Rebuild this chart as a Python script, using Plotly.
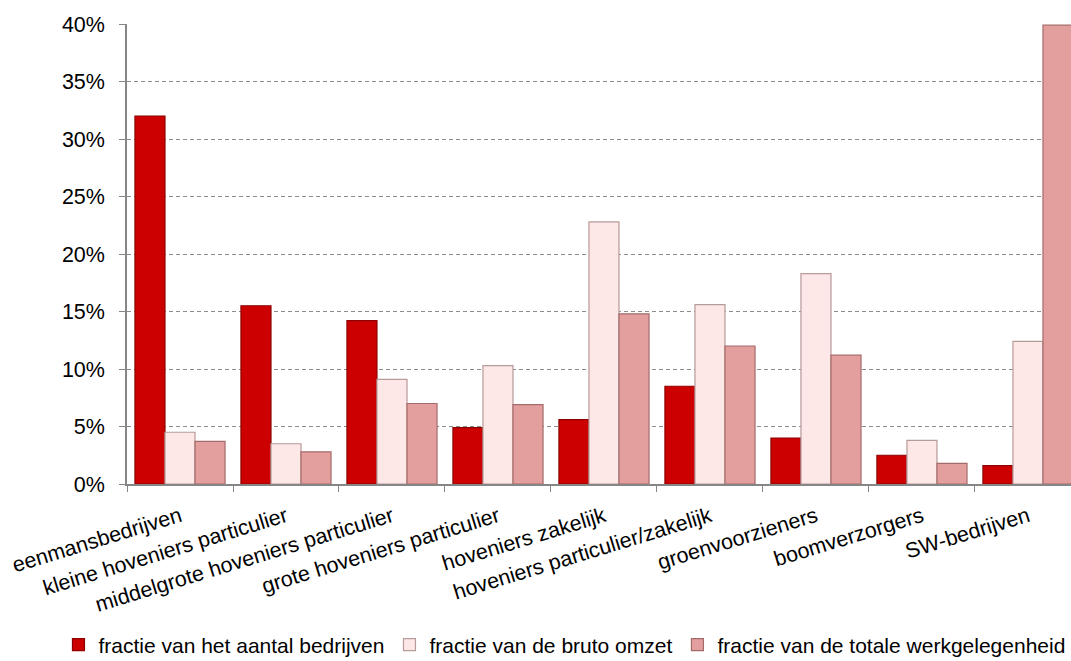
import plotly.graph_objects as go

categories = [
    "eenmansbedrijven",
    "kleine hoveniers particulier",
    "middelgrote hoveniers particulier",
    "grote hoveniers particulier",
    "hoveniers zakelijk",
    "hoveniers particulier/zakelijk",
    "groenvoorzieners",
    "boomverzorgers",
    "SW-bedrijven",
]

aantal_bedrijven = [32.0, 15.5, 14.2, 4.9, 5.6, 8.5, 4.0, 2.5, 1.6]
bruto_omzet = [4.5, 3.5, 9.1, 10.3, 22.8, 15.6, 18.3, 3.8, 12.4]
werkgelegenheid = [3.7, 2.8, 7.0, 6.9, 14.8, 12.0, 11.2, 1.8, 39.9]

series_names = [
    "fractie van het aantal bedrijven",
    "fractie van de bruto omzet",
    "fractie van de totale werkgelegenheid",
]

y_ticks = [0, 5, 10, 15, 20, 25, 30, 35, 40]
y_tick_labels = [f"{t}%" for t in y_ticks]

FONT = "Liberation Sans, Arial, sans-serif"
FS = 21.5

styles = [
    dict(color="#CC0000", line="#8E0000"),
    dict(color="#FDE7E7", line="#B79A9A"),
    dict(color="#E39E9E", line="#A56B6B"),
]

fig = go.Figure()
for name, values, st in zip(series_names, [aantal_bedrijven, bruto_omzet, werkgelegenheid], styles):
    fig.add_trace(
        go.Bar(
            x=categories,
            y=values,
            name=name,
            marker=dict(color=st["color"], line=dict(color=st["line"], width=1.2)),
        )
    )

fig.update_layout(
    width=1071,
    height=661,
    barmode="group",
    bargap=0.15,
    bargroupgap=0,
    plot_bgcolor="white",
    paper_bgcolor="white",
    margin=dict(l=127, r=0, t=24, b=177, autoexpand=False),
    font=dict(family=FONT, size=FS, color="#000000"),
    showlegend=True,
    legend=dict(
        orientation="h",
        x=-0.0726,
        xanchor="left",
        y=-0.35,
        yanchor="middle",
        font=dict(family=FONT, size=21, color="#000000"),
        itemwidth=30,
        tracegroupgap=0,
    ),
)

fig.update_xaxes(
    type="category",
    range=[-0.5, 8.406],
    tickangle=-17,
    automargin=False,
    showline=True,
    linecolor="#868686",
    linewidth=1.5,
    ticks="outside",
    tickson="boundaries",
    ticklen=6,
    tickcolor="#868686",
    ticklabelstandoff=10,
    tickfont=dict(family=FONT, size=FS, color="#000000"),
    showgrid=False,
)

fig.update_yaxes(
    range=[0, 40],
    tickvals=y_ticks,
    ticktext=y_tick_labels,
    automargin=False,
    showline=True,
    linecolor="#868686",
    linewidth=1.5,
    ticks="outside",
    ticklen=6,
    tickcolor="#868686",
    ticklabelstandoff=10,
    tickfont=dict(family=FONT, size=FS, color="#000000"),
    showgrid=True,
    gridcolor="#8C8C8C",
    gridwidth=1,
    griddash="4px,3px",
    zeroline=False,
)

fig.write_html("out.html")
